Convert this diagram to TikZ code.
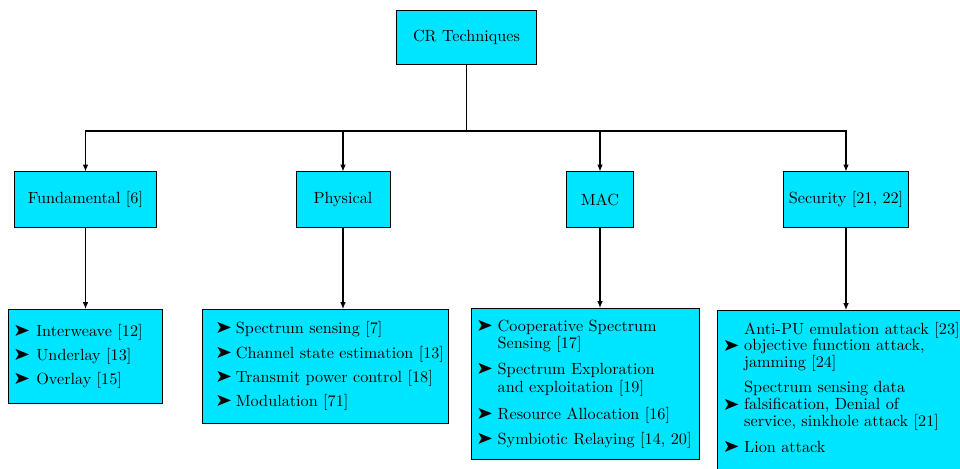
\documentclass[tikz,border=0pt]{standalone}
\usepackage{tikz}
\usepackage{pifont}
\usetikzlibrary{arrows.meta}
\definecolor{crcyan}{RGB}{0,229,255}
\newcommand{\itemlines}[2][c]{{\renewcommand{\arraystretch}{0.85}\begin{tabular}[#1]{@{}l@{}}#2\end{tabular}}}
\newcommand{\itemgap}[1]{\\ \noalign{\vskip #1}}

\begin{document}
\begin{tikzpicture}[x=0.617pt, y=-0.617pt, >={Latex[length=4.2pt,width=3.4pt]},
		techbox/.style={draw=black, fill=crcyan, line width=0.6pt, minimum height=34pt, inner xsep=3pt},
		listbox/.style={draw=black, fill=crcyan, line width=0.6pt, anchor=north, align=left, inner xsep=4.3pt},
		link/.style={line width=0.65pt}]
		\useasboundingbox (0,0) rectangle (960,468);
		% top and second level
		\node[techbox, minimum width=85.8pt, minimum height=33.3pt] (cr) at (466.5,37) {CR Techniques};
		\node[techbox, minimum width=88.2pt] (fund) at (85.5,199.5) {Fundamental [6]};
		\node[techbox, minimum width=58pt] (phys) at (343,199.5) {Physical};
		\node[techbox, minimum width=41.3pt] (mac) at (600,199.5) {MAC};
		\node[techbox, minimum width=76.5pt] (sec) at (846,199.5) {Security [21, 22]};
		\coordinate (bus) at (466.5,131);
		\draw[link] (cr) -- (bus);
		\draw[link,->] (bus) -| (fund);
		\draw[link,->] (bus) -| (phys);
		\draw[link,->] (bus) -| (mac);
		\draw[link,->] (bus) -| (sec);
		% lists
		\node[listbox, text width=87pt, minimum height=58pt] (fundlist) at (85.5,309) {%
			\begin{tabular}{@{}l@{\hspace{4pt}}l@{}}
				\ding{228} & Interweave [12]\itemgap{3pt}
				\ding{228} & Underlay [13]\itemgap{3pt}
				\ding{228} & Overlay [15]
			\end{tabular}};
		\node[listbox, inner xsep=8.6pt, text width=134pt, minimum height=70.3pt] (physlist) at (325.5,309) {%
			\begin{tabular}{@{}l@{\hspace{2.5pt}}l@{}}
				\ding{228} & Spectrum sensing [7]\itemgap{3pt}
				\ding{228} & Channel state estimation [13]\itemgap{3pt}
				\ding{228} & Transmit power control [18]\itemgap{3pt}
				\ding{228} & Modulation [71]
			\end{tabular}};
		\node[listbox, text width=132.1pt, minimum height=93.2pt] (maclist) at (585,308) {%
			\begin{tabular}{@{}l@{\hspace{3pt}}l@{}}
				\ding{228} & \itemlines[t]{Cooperative Spectrum\\ Sensing [17]}\itemgap{5pt}
				\ding{228} & \itemlines[t]{Spectrum Exploration\\ and exploitation [19]}\itemgap{5.5pt}
				\ding{228} & Resource Allocation [16]\itemgap{3.5pt}
				\ding{228} & Symbiotic Relaying [14, 20]
			\end{tabular}};
		\node[listbox, text width=150pt, minimum height=98.7pt] (seclist) at (846,310) {%
			\begin{tabular}{@{}l@{\hspace{3pt}}l@{}}
				\ding{228} & \itemlines{Anti-PU emulation attack [23]\\ objective function attack,\\ jamming [24]}\itemgap{5pt}
				\ding{228} & \itemlines{Spectrum sensing data\\ falsification, Denial of\\ service, sinkhole attack [21]}\itemgap{5pt}
				\ding{228} & Lion attack
			\end{tabular}};
		\draw[link,->] (fund) -- (fund |- fundlist.north);
		\draw[link,->] (phys) -- (phys |- physlist.north);
		\draw[link,->] (mac) -- (mac |- maclist.north);
		\draw[link,->] (sec) -- (sec |- seclist.north);
\end{tikzpicture}
\end{document}
